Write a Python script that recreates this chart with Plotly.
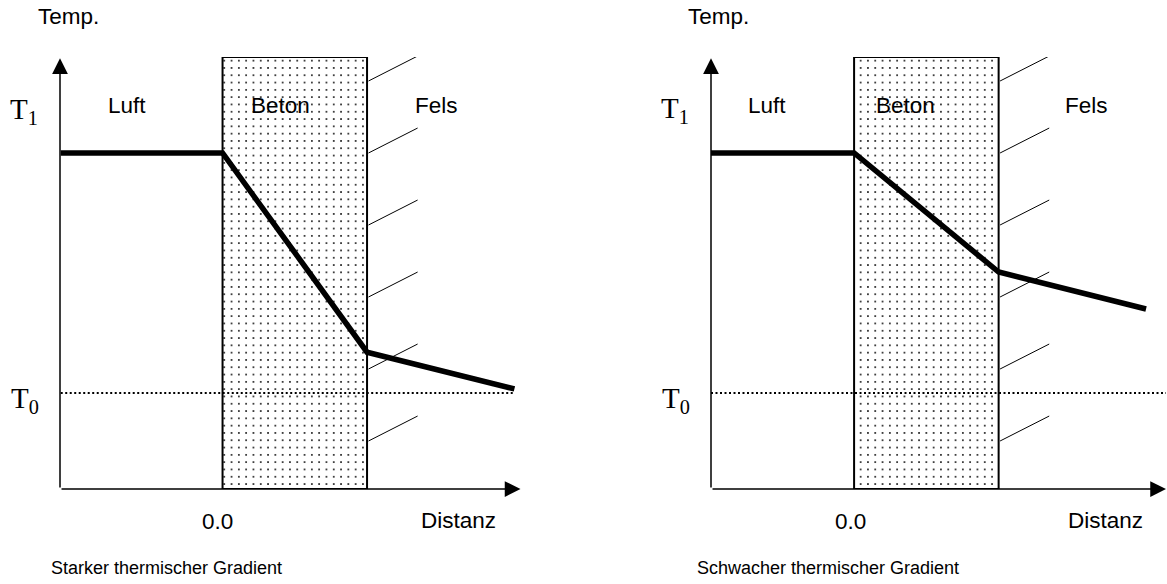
import plotly.graph_objects as go

W, H = 1167, 584

# ---- data (distance in units of concrete thickness, temperature normalised: T0 = 0, T1 = 1)
panel_titles = ["Starker thermischer Gradient", "Schwacher thermischer Gradient"]
dist_left = [-1.12, 0.0, 1.0, 2.02]
temp_left = [1.0, 1.0, 0.17, 0.017]
dist_right = [-0.99, 0.0, 1.0, 2.02]
temp_right = [1.0, 1.0, 0.504, 0.35]
t0_x_left = [-1.12, 2.02]
t0_x_right = [-0.99, 2.17]
t0_y = [0.0, 0.0]
axis_x_left = [-1.125, 2.062]
axis_x_right = [-0.99, 2.158]
y_range = [-0.4, 1.4]
concrete = [0.0, 1.0]
hatch_y = [1.3, 1.0, 0.7, 0.4, 0.1, -0.2]
hatch_x = [1.01, 1.35]
hatch_rise = 0.104
region_labels = ["Luft", "Beton", "Fels"]
region_x_left = [-0.664, 0.40, 1.48]
region_x_right = [-0.605, 0.353, 1.61]
region_y = 1.2
tick_labels = ["T<sub>1</sub>", "T<sub>0</sub>"]
tick_values = [1.0, 0.0]

def px(x):
    return x / W

def py(y):
    return 1 - y / H

fig = go.Figure()

panels = [
    dict(xa="x", ya="y", dist=dist_left, temp=temp_left, t0x=t0_x_left,
         axx=axis_x_left, rx=region_x_left),
    dict(xa="x2", ya="y2", dist=dist_right, temp=temp_right, t0x=t0_x_right,
         axx=axis_x_right, rx=region_x_right),
]

label_font = dict(family="Liberation Sans, Arial", size=22.5, color="black")

annotations = []
for i, p in enumerate(panels):
    xa, ya = p["xa"], p["ya"]
    # concrete block with stipple
    fig.add_trace(go.Bar(
        x=[(concrete[0] + concrete[1]) / 2], y=[y_range[1] - y_range[0]],
        base=[y_range[0]], width=[concrete[1] - concrete[0]],
        xaxis=xa, yaxis=ya, showlegend=False, hoverinfo="skip",
        marker=dict(color="white", line=dict(color="black", width=2),
                    pattern=dict(shape=".", size=7.3, solidity=0.05,
                                 fgcolor="black", bgcolor="white",
                                 fillmode="replace")),
    ))
    # rock hatching
    for hy in hatch_y:
        fig.add_trace(go.Scatter(
            x=hatch_x, y=[hy, hy + hatch_rise], mode="lines",
            line=dict(color="black", width=1), xaxis=xa, yaxis=ya,
            showlegend=False, hoverinfo="skip"))
    # T0 reference dotted line
    fig.add_trace(go.Scatter(
        x=p["t0x"], y=t0_y, mode="lines",
        line=dict(color="black", width=2, dash="2px,2.5px"),
        xaxis=xa, yaxis=ya, showlegend=False, hoverinfo="skip"))
    # axes drawn as arrows
    annotations.append(dict(
        x=p["axx"][0], y=1.395, ax=p["axx"][0], ay=y_range[0],
        xref=xa, yref=ya, axref=xa, ayref=ya, text="", showarrow=True,
        arrowhead=2, arrowsize=2.1, arrowwidth=1.5, arrowcolor="black"))
    annotations.append(dict(
        x=p["axx"][1], y=y_range[0], ax=p["axx"][0], ay=y_range[0],
        xref=xa, yref=ya, axref=xa, ayref=ya, text="", showarrow=True,
        arrowhead=2, arrowsize=2.1, arrowwidth=1.5, arrowcolor="black"))
    # temperature profile
    fig.add_trace(go.Scatter(
        x=p["dist"], y=p["temp"], mode="lines",
        line=dict(color="black", width=5.5), xaxis=xa, yaxis=ya,
        showlegend=False, hoverinfo="skip"))
    # region labels
    for lab, lx in zip(region_labels, p["rx"]):
        annotations.append(dict(
            x=lx, y=region_y, xref=xa, yref=ya, text=lab, showarrow=False,
            font=label_font))

# tick under 0.0 on the left panel
fig.add_trace(go.Scatter(x=[0.0, 0.0], y=[y_range[0], y_range[0] - 0.03],
                         mode="lines", line=dict(color="black", width=2),
                         xaxis="x", yaxis="y", showlegend=False, hoverinfo="skip"))

# outside texts (pixel-placed)
title_font = dict(family="Liberation Sans, Arial", size=18, color="black")
serif = dict(family="Liberation Serif, Times New Roman", size=29, color="black")
outside = [
    ("Temp.", 68, 17, label_font),
    ("Temp.", 718, 17, label_font),
    (tick_labels[0], 24, 111, serif),
    (tick_labels[0], 675, 110, serif),
    (tick_labels[1], 25, 400, serif),
    (tick_labels[1], 676, 400, serif),
    ("0.0", 217.5, 521, label_font),
    ("0.0", 850, 521, label_font),
    ("Distanz", 458, 520, label_font),
    ("Distanz", 1105.5, 520, label_font),
    (panel_titles[0], 166, 568, title_font),
    (panel_titles[1], 828, 568, title_font),
]
for txt, x, y, f in outside:
    annotations.append(dict(x=px(x), y=py(y), xref="paper", yref="paper",
                            text=txt, showarrow=False, font=f,
                            xanchor="center", yanchor="middle"))

ax_common = dict(visible=False, showgrid=False, zeroline=False, fixedrange=True)
fig.update_layout(
    width=W, height=H, margin=dict(l=0, r=0, t=0, b=0),
    paper_bgcolor="white", plot_bgcolor="rgba(0,0,0,0)",
    xaxis=dict(domain=[px(60), px(520.5)], range=axis_x_left, **ax_common),
    yaxis=dict(domain=[py(489), py(57)], range=y_range, **ax_common),
    xaxis2=dict(domain=[px(711), px(1166)], range=axis_x_right, anchor="y2", **ax_common),
    yaxis2=dict(domain=[py(489), py(57)], range=y_range, anchor="x2", **ax_common),
    annotations=annotations,
    barmode="overlay",
)

fig.write_html("out.html", config={"displayModeBar": False},
               post_script="document.body.style.margin='0';document.body.style.padding='0';")
